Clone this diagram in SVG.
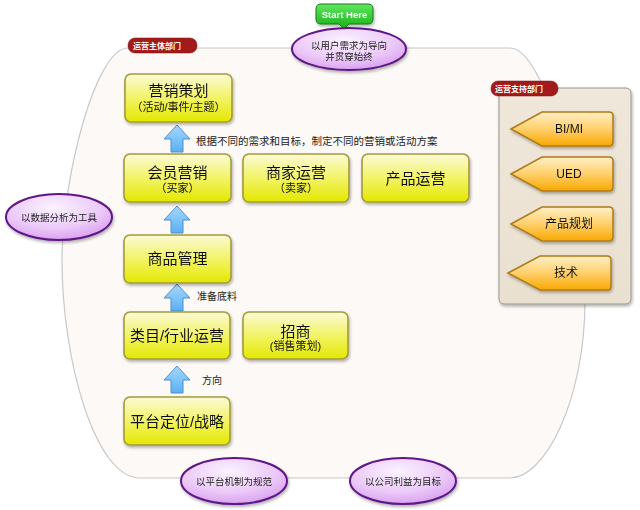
<svg xmlns="http://www.w3.org/2000/svg" width="640" height="510" viewBox="0 0 640 510">
<style>
text{font-family:"Liberation Sans","Noto Sans CJK SC",sans-serif;fill:#111}
.box{fill:url(#yg);stroke:#A49A3A;stroke-width:1.6}
.big{font-size:15px;text-anchor:middle}
.sub{font-size:11px;text-anchor:middle}
.ell{fill:url(#pg);stroke:#5E1687;stroke-width:2}
.et{font-size:9.5px;text-anchor:middle;fill:#222}
.tag{fill:#A21A1A;stroke:#7A1010;stroke-width:0.5}
.tagt{font-size:8px;font-weight:bold;fill:#fff}
.arr{fill:url(#bg);stroke:#4F8FCC;stroke-width:1}
.lab{font-size:10px;fill:#222}
.tab{fill:url(#og);stroke:#B07A18;stroke-width:1.5}
.tt{font-size:12px;text-anchor:middle}
</style>
<defs>
<linearGradient id="yg" x1="0" y1="0" x2="0" y2="1"><stop offset="0" stop-color="#FBFAD6"/><stop offset="0.55" stop-color="#F1F25C"/><stop offset="1" stop-color="#E3E800"/></linearGradient>
<radialGradient id="pg" cx="0.45" cy="0.3" r="0.75"><stop offset="0" stop-color="#FBF3FF"/><stop offset="0.6" stop-color="#EBC8F8"/><stop offset="1" stop-color="#D59BEE"/></radialGradient>
<linearGradient id="bg" x1="0" y1="0" x2="0" y2="1"><stop offset="0" stop-color="#A6D8FF"/><stop offset="1" stop-color="#5AB0F2"/></linearGradient>
<linearGradient id="og" x1="0" y1="0" x2="0" y2="1"><stop offset="0" stop-color="#FFF0C8"/><stop offset="0.5" stop-color="#FFCF6A"/><stop offset="1" stop-color="#F8A800"/></linearGradient>
<linearGradient id="gg" x1="0" y1="0" x2="0" y2="1"><stop offset="0" stop-color="#5FE85F"/><stop offset="1" stop-color="#15B015"/></linearGradient>
<linearGradient id="panel" x1="0" y1="0" x2="0" y2="1"><stop offset="0" stop-color="#EFE7DA"/><stop offset="1" stop-color="#E9E0D0"/></linearGradient>
<filter id="sh" x="-10%" y="-10%" width="130%" height="140%"><feDropShadow dx="1" dy="2" stdDeviation="1.5" flood-color="#000" flood-opacity="0.3"/></filter>
</defs>

<g id="container">
<path d="M128,48 L510,48 C545,48 585,200 585,300 C585,400 545,478 510,478 L140,478 C95,478 62,360 62,260 C62,180 95,48 128,48 Z" fill="#FCF9F6" stroke="#C8C8C8" stroke-width="1.2"/>
</g>

<g id="panel-support">
<rect x="499" y="88" width="132" height="216" rx="5" fill="url(#panel)" stroke="#9A958C" stroke-width="1" filter="url(#sh)"/>
</g>

<g id="connectors">
<path class="arr" d="M177,125 L190,139 L183,139 L183,152 L171,152 L171,139 L164,139 Z"/>
<path class="arr" d="M177,206 L190,220 L183,220 L183,233 L171,233 L171,220 L164,220 Z"/>
<path class="arr" d="M177,284 L190,298 L183,298 L183,311 L171,311 L171,298 L164,298 Z"/>
<path class="arr" d="M177,366 L190,380 L183,380 L183,393 L171,393 L171,380 L164,380 Z"/>
<text class="lab" x="196" y="145" style="font-size:10.5px">根据不同的需求和目标，制定不同的营销或活动方案</text>
<text class="lab" x="197" y="300">准备底料</text>
<text class="lab" x="202" y="384">方向</text>
</g>

<g id="tag-main">
<rect class="tag" x="128" y="38" width="69" height="15" rx="7"/>
<text class="tagt" x="133" y="49">运营主体部门</text>
</g>
<g id="tag-support">
<rect class="tag" x="491" y="81" width="67" height="15" rx="7"/>
<text class="tagt" x="495" y="92">运营支持部门</text>
</g>

<g id="n-yingxiao" filter="url(#sh)">
<rect class="box" x="125" y="74" width="107" height="48" rx="6"/>
<text class="big" x="178.5" y="96">营销策划</text>
<text class="sub" x="178.5" y="111">（活动/事件/主题）</text>
</g>
<g id="n-huiyuan" filter="url(#sh)">
<rect class="box" x="124" y="154" width="107" height="48" rx="6"/>
<text class="big" x="177.5" y="178">会员营销</text>
<text class="sub" x="177.5" y="192">（买家）</text>
</g>
<g id="n-shangjia" filter="url(#sh)">
<rect class="box" x="243" y="154" width="106" height="48" rx="6"/>
<text class="big" x="296" y="178">商家运营</text>
<text class="sub" x="296" y="192">（卖家）</text>
</g>
<g id="n-chanpin" filter="url(#sh)">
<rect class="box" x="362" y="154" width="107" height="48" rx="6"/>
<text class="big" x="415.5" y="184">产品运营</text>
</g>
<g id="n-shangpin" filter="url(#sh)">
<rect class="box" x="124" y="235" width="107" height="48" rx="6"/>
<text class="big" x="177.5" y="264">商品管理</text>
</g>
<g id="n-leimu" filter="url(#sh)">
<rect class="box" x="124" y="312" width="106" height="47" rx="6"/>
<text class="big" x="177" y="341">类目/行业运营</text>
</g>
<g id="n-zhaoshang" filter="url(#sh)">
<rect class="box" x="243" y="312" width="105" height="47" rx="6"/>
<text class="big" x="295.5" y="337">招商</text>
<text class="sub" x="295.5" y="350">(销售策划)</text>
</g>
<g id="n-pingtai" filter="url(#sh)">
<rect class="box" x="124" y="397" width="106" height="48" rx="6"/>
<text class="big" x="177" y="427">平台定位/战略</text>
</g>

<g id="n-start" filter="url(#sh)">
<path d="M321,4 L368,4 Q373,4 373,9 L373,19 Q373,24 368,24 L349,24 L344,29 L339,24 L321,24 Q316,24 316,19 L316,9 Q316,4 321,4 Z" fill="url(#gg)" stroke="#1A7A1A" stroke-width="1"/>
<text x="344.5" y="18" style="font-size:9.5px;fill:#fff;text-anchor:middle;font-weight:bold">Start Here</text>
</g>

<g id="e-top" filter="url(#sh)">
<ellipse class="ell" cx="349" cy="49" rx="57" ry="21"/>
<text class="et" x="349" y="49">以用户需求为导向</text>
<text class="et" x="349" y="60">并贯穿始终</text>
</g>
<g id="e-left" filter="url(#sh)">
<ellipse class="ell" cx="59" cy="217" rx="53" ry="23"/>
<text class="et" x="59" y="221">以数据分析为工具</text>
</g>
<g id="e-bottom1" filter="url(#sh)">
<ellipse class="ell" cx="234" cy="481" rx="53" ry="23"/>
<text class="et" x="234" y="485">以平台机制为规范</text>
</g>
<g id="e-bottom2" filter="url(#sh)">
<ellipse class="ell" cx="403" cy="481" rx="53" ry="23"/>
<text class="et" x="403" y="485">以公司利益为目标</text>
</g>

<g id="s-bimi" filter="url(#sh)">
<path class="tab" d="M511,129 L542,112 L609,112 Q613,112 613,116 L613,142 Q613,146 609,146 L542,146 Z"/>
<text class="tt" x="569" y="133">BI/MI</text>
</g>
<g id="s-ued" filter="url(#sh)">
<path class="tab" d="M511,174 L542,157 L609,157 Q613,157 613,161 L613,187 Q613,191 609,191 L542,191 Z"/>
<text class="tt" x="569" y="178">UED</text>
</g>
<g id="s-guihua" filter="url(#sh)">
<path class="tab" d="M511,224 L542,207 L609,207 Q613,207 613,211 L613,237 Q613,241 609,241 L542,241 Z"/>
<text class="tt" x="569" y="228">产品规划</text>
</g>
<g id="s-jishu" filter="url(#sh)">
<path class="tab" d="M508,273 L540,256 L607,256 Q611,256 611,260 L611,286 Q611,290 607,290 L540,290 Z"/>
<text class="tt" x="566" y="277">技术</text>
</g>
</svg>
